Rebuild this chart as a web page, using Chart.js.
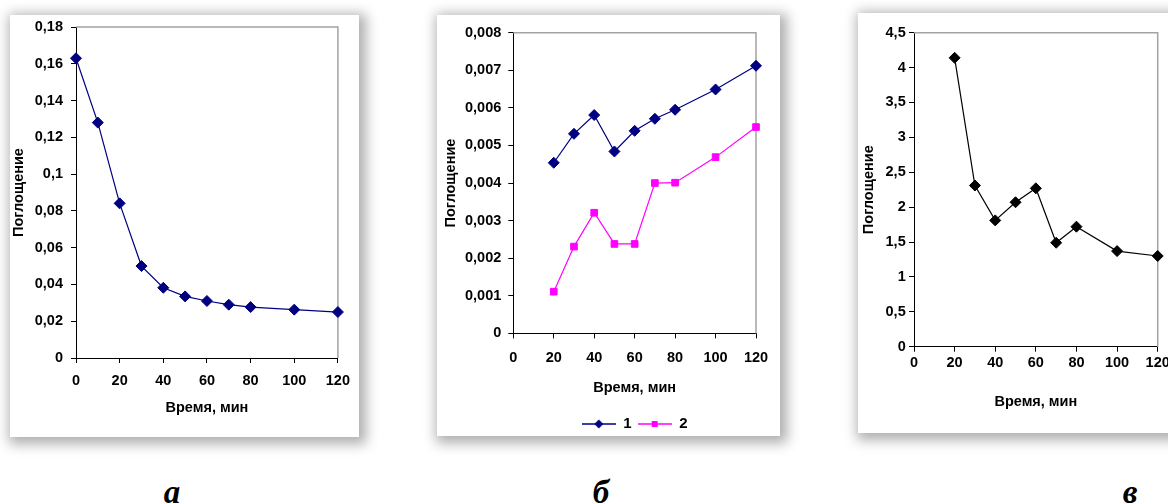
<!DOCTYPE html>
<html>
<head>
<meta charset="utf-8">
<script src="https://cdn.jsdelivr.net/npm/chart.js@4/dist/chart.umd.min.js"></script>
<style>
  html, body { margin:0; padding:0; background:#fff; width:1168px; height:504px; overflow:hidden; position:relative; }
  .card { position:absolute; background:#fff; box-shadow: 3px 3px 12px 4px rgba(0,0,0,0.32); }
  .card canvas { position:absolute; left:0; top:0; }
  .lab { position:absolute; font-family:"Liberation Serif", serif; font-weight:bold; font-style:italic; font-size:33px; transform:translateX(-50%); line-height:1; color:#000; }
</style>
</head>
<body>
<div class="card" style="left:10px;top:15px;width:349px;height:422px;"><canvas id="ca" width="349" height="422"></canvas></div>
<div class="card" style="left:437px;top:15px;width:343px;height:421px;"><canvas id="cb" width="343" height="428"></canvas></div>
<div class="card" style="left:858px;top:13px;width:330px;height:420px;"><canvas id="cc" width="330" height="420"></canvas></div>
<div class="lab" style="left:172px;top:476px;">а</div>
<div class="lab" style="left:601px;top:476px;">б</div>
<div class="lab" style="left:1130px;top:476px;">в</div>
<script>
// ---- data ----
const timeA = [0, 10, 20, 30, 40, 50, 60, 70, 80, 100, 120];
const absA  = [0.163, 0.128, 0.0841, 0.050, 0.0382, 0.0335, 0.031, 0.029, 0.0277, 0.0263, 0.025];

const timeB  = [20, 30, 40, 50, 60, 70, 80, 100, 120];
const absB1  = [0.00454, 0.00531, 0.00581, 0.00484, 0.00539, 0.00571, 0.00595, 0.00649, 0.00712];
const absB2  = [0.00111, 0.00231, 0.00321, 0.00238, 0.00238, 0.0040, 0.00401, 0.00469, 0.00549];
const seriesNamesB = ['1', '2'];

const timeC = [20, 30, 40, 50, 60, 70, 80, 100, 120];
const absC  = [4.14, 2.31, 1.81, 2.07, 2.27, 1.49, 1.72, 1.37, 1.30];

const xTicks = [0, 20, 40, 60, 80, 100, 120];
const yRangeA = [0, 0.18, 0.02];
const yRangeB = [0, 0.008, 0.001];
const yRangeC = [0, 4.5, 0.5];

const xTitle = 'Время, мин';
const yTitle = 'Поглощение';

// ---- helpers ----
const FONT = '"Liberation Sans", Arial, sans-serif';
const FS = 14.5;
const NAVY = '#000080', MAG = '#ff00ff', BLK = '#000000';

function fmt(v) {
  return parseFloat(v.toFixed(4)).toString().replace('.', ',');
}
function pts(xs, ys) { return xs.map((x, i) => ({x: x, y: ys[i]})); }

const frame = {
  id: 'frame',
  beforeDatasetsDraw(chart) {
    const {ctx, chartArea: a} = chart;
    ctx.save();
    ctx.strokeStyle = '#a3a3a3';
    ctx.lineWidth = 1.5;
    ctx.beginPath();
    ctx.moveTo(a.left, a.top);
    ctx.lineTo(a.right, a.top);
    ctx.lineTo(a.right, a.bottom);
    ctx.stroke();
    ctx.restore();
  }
};

function makeChart(id, datasets, yr, g, legend) {
  const ctx = document.getElementById(id);
  return new Chart(ctx, {
    type: 'scatter',
    data: { datasets: datasets },
    plugins: [frame],
    options: {
      responsive: false,
      animation: false,
      devicePixelRatio: 1,
      layout: { padding: { left: 0, top: g.top, right: g.right, bottom: g.bottom } },
      plugins: {
        legend: legend || { display: false },
        tooltip: { enabled: false }
      },
      scales: {
        x: {
          type: 'linear', min: 0, max: 120,
          afterBuildTicks(s) { s.ticks = xTicks.map(v => ({value: v})); },
          afterFit(s) { s.height = g.xh; },
          border: { display: true, color: '#000', width: 1 },
          grid: { drawOnChartArea: false, drawTicks: true, tickLength: 5, color: '#000' },
          ticks: { color: '#000', padding: g.xpad, font: { family: FONT, size: FS, weight: 'bold' }, maxRotation: 0, autoSkip: false, callback: v => fmt(v) },
          title: { display: true, text: xTitle, color: '#000', font: { family: FONT, size: FS, weight: 'bold' }, padding: { top: 4, bottom: g.xtb } }
        },
        y: {
          type: 'linear', min: yr[0], max: yr[1],
          ticks: { stepSize: yr[2], color: '#000', padding: g.ypad, font: { family: FONT, size: FS, weight: 'bold' }, callback: v => fmt(v) },
          afterFit(s) { s.width = g.yw; s.paddingTop = 0; },
          border: { display: true, color: '#000', width: 1 },
          grid: { drawOnChartArea: false, drawTicks: true, tickLength: 5, color: '#000' },
          title: { display: true, text: yTitle, color: '#000', font: { family: FONT, size: FS, weight: 'bold' }, padding: { top: g.ytp, bottom: 0 } }
        }
      }
    }
  });
}

function ds(xs, ys, color, style, r) {
  return {
    data: pts(xs, ys), showLine: true, borderColor: color, borderWidth: 1.2,
    backgroundColor: color, pointBackgroundColor: color, pointBorderColor: color,
    pointStyle: style, pointRadius: r, pointBorderWidth: 1, clip: false, tension: 0
  };
}

function legendIcon(color, style) {
  const c = document.createElement('canvas');
  c.width = 34; c.height = 12;
  const x = c.getContext('2d');
  x.strokeStyle = color; x.lineWidth = 1.3;
  x.beginPath(); x.moveTo(0, 6); x.lineTo(34, 6); x.stroke();
  x.fillStyle = color;
  x.beginPath();
  if (style === 'rectRot') {
    x.moveTo(17, 1.5); x.lineTo(21.5, 6); x.lineTo(17, 10.5); x.lineTo(12.5, 6); x.closePath();
  } else {
    x.rect(14, 3, 6, 6);
  }
  x.fill();
  return c;
}

// Panel a
makeChart('ca', [ds(timeA, absA, NAVY, 'rectRot', 5.5)], yRangeA,
  { top: 12, right: 20, bottom: 16.3, xh: 62.7, xtb: 4, yw: 66, xpad: 9, ypad: 8, ytp: 0.3 });

// Panel b
const icons = [legendIcon(NAVY, 'rectRot'), legendIcon(MAG, 'rect')];
makeChart('cb', [ds(timeB, absB1, NAVY, 'rectRot', 5.5), ds(timeB, absB2, MAG, 'rect', 4.7)], yRangeB,
  { top: 17.7, right: 24, bottom: 1.5, xh: 77.1, xtb: 14, yw: 76.3, xpad: 11, ypad: 7, ytp: 5 },
  {
    display: true, position: 'bottom', fullSize: false,
    labels: {
      usePointStyle: true, pointStyleWidth: 34, padding: 6, color: '#000',
      font: { family: FONT, size: 15, weight: 'bold' },
      generateLabels: () => seriesNamesB.map((n, i) => ({
        text: n, pointStyle: icons[i], fillStyle: 'rgba(0,0,0,0)', strokeStyle: 'rgba(0,0,0,0)',
        lineWidth: 0, hidden: false, datasetIndex: i, fontColor: '#000'
      }))
    }
  });

// Panel c
makeChart('cc', [ds(timeC, absC, BLK, 'rectRot', 5.5)], yRangeC,
  { top: 19.7, right: 30.3, bottom: 18.3, xh: 68, xtb: 4, yw: 56, xpad: 2.3, ypad: 3.3, ytp: 2.3 });
</script>
</body>
</html>
